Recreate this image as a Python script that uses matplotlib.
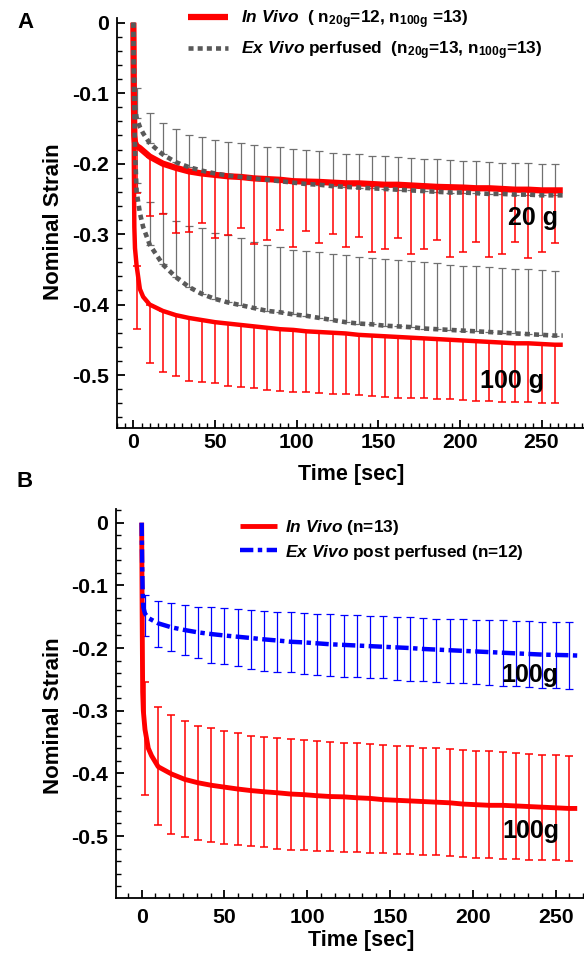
import numpy as np
import matplotlib
matplotlib.use('Agg')
import matplotlib.pyplot as plt
from matplotlib.ticker import MultipleLocator, AutoMinorLocator, FixedLocator, FixedFormatter

plt.rcParams['font.family'] = ['Liberation Sans', 'DejaVu Sans']
plt.rcParams['font.weight'] = 'bold'
plt.rcParams['axes.unicode_minus'] = False
plt.rcParams['mathtext.fontset'] = 'custom'
plt.rcParams['mathtext.rm'] = 'Liberation Sans:bold'
plt.rcParams['mathtext.it'] = 'Liberation Sans:italic:bold'
plt.rcParams['mathtext.bf'] = 'Liberation Sans:bold'

# ---------------- data ----------------
time_line = [0, 0.3, 0.6, 1, 2, 4, 6, 10, 18, 26, 34, 42, 50, 58, 66, 74, 82, 90, 98,
             106, 114, 122, 130, 138, 146, 154, 162, 170, 178, 186, 194, 202, 210,
             218, 226, 234, 242, 250, 258, 263]
time_bars = [2, 10, 18, 26, 34, 42, 50, 58, 66, 74, 82, 90, 98, 106, 114, 122, 130,
             138, 146, 154, 162, 170, 178, 186, 194, 202, 210, 218, 226, 234, 242, 250, 258]

# Panel A : mean curves
A_invivo_20g = [0, -0.10, -0.16, -0.17, -0.175, -0.178, -0.182, -0.190, -0.200, -0.206,
                -0.211, -0.214, -0.216, -0.218, -0.219, -0.221, -0.222, -0.223, -0.225,
                -0.2255, -0.226, -0.227, -0.228, -0.228, -0.229, -0.230, -0.230, -0.231,
                -0.232, -0.233, -0.2335, -0.234, -0.235, -0.235, -0.236, -0.237, -0.237,
                -0.238, -0.238, -0.238]
A_exvivo_20g = [0, -0.06, -0.10, -0.12, -0.135, -0.148, -0.157, -0.171, -0.187, -0.198,
                -0.205, -0.210, -0.214, -0.217, -0.219, -0.221, -0.223, -0.225, -0.227,
                -0.229, -0.230, -0.232, -0.233, -0.234, -0.235, -0.236, -0.237, -0.238,
                -0.239, -0.240, -0.241, -0.241, -0.242, -0.243, -0.243, -0.244, -0.244,
                -0.245, -0.245, -0.245]
A_invivo_100g = [0, -0.20, -0.29, -0.32, -0.345, -0.378, -0.389, -0.400, -0.409, -0.415,
                 -0.419, -0.422, -0.425, -0.427, -0.429, -0.431, -0.433, -0.435, -0.436,
                 -0.438, -0.439, -0.440, -0.441, -0.443, -0.444, -0.445, -0.446, -0.447,
                 -0.448, -0.449, -0.450, -0.451, -0.452, -0.453, -0.454, -0.455, -0.455,
                 -0.456, -0.457, -0.457]
A_exvivo_100g = [0, -0.08, -0.13, -0.18, -0.24, -0.27, -0.29, -0.315, -0.343, -0.361,
                 -0.375, -0.385, -0.392, -0.397, -0.401, -0.405, -0.409, -0.411, -0.414,
                 -0.416, -0.419, -0.422, -0.425, -0.427, -0.428, -0.430, -0.431, -0.432,
                 -0.434, -0.435, -0.436, -0.437, -0.438, -0.439, -0.440, -0.441, -0.442,
                 -0.443, -0.444, -0.444]

# Panel A : error-bar ends (in vivo: lower ends, ex vivo: upper ends)
A_invivo_20g_low = [-0.242, -0.274, -0.272, -0.299, -0.2965, -0.284, -0.305, -0.302, -0.292,
                    -0.314, -0.309, -0.294, -0.318, -0.296, -0.312, -0.300, -0.318, -0.3035,
                    -0.325, -0.321, -0.305, -0.3285, -0.3215, -0.308, -0.332, -0.325, -0.311,
                    -0.332, -0.328, -0.311, -0.334, -0.325, -0.313]
A_exvivo_20g_high = [-0.092, -0.1275, -0.142, -0.151, -0.159, -0.1625, -0.166, -0.169, -0.171,
                     -0.1735, -0.176, -0.177, -0.1797, -0.181, -0.1827, -0.1843, -0.186,
                     -0.187, -0.1885, -0.189, -0.191, -0.192, -0.193, -0.194, -0.195, -0.196,
                     -0.197, -0.198, -0.1985, -0.199, -0.1995, -0.200, -0.200]
A_invivo_100g_low = [-0.435, -0.483, -0.4964, -0.502, -0.5078, -0.5096, -0.5115, -0.5153,
                     -0.5177, -0.519, -0.5214, -0.5224, -0.5234, -0.5245, -0.5257, -0.5267,
                     -0.527, -0.529, -0.5295, -0.5305, -0.5328, -0.5328, -0.5333, -0.5343,
                     -0.5347, -0.5357, -0.5362, -0.5366, -0.5376, -0.538, -0.5385, -0.539, -0.540]
A_exvivo_100g_high = [-0.228, -0.254, -0.270, -0.281, -0.289, -0.292, -0.298, -0.302, -0.306,
                      -0.311, -0.316, -0.319, -0.322, -0.324, -0.326, -0.328, -0.330, -0.333,
                      -0.334, -0.336, -0.337, -0.338, -0.340, -0.341, -0.3437, -0.345, -0.346,
                      -0.347, -0.348, -0.349, -0.350, -0.351, -0.352]

# Panel B : mean curves
B_invivo = [0, -0.15, -0.27, -0.30, -0.33, -0.36, -0.372, -0.3895, -0.401, -0.4096, -0.415,
            -0.419, -0.422, -0.425, -0.4275, -0.4294, -0.431, -0.433, -0.434, -0.4357, -0.437,
            -0.4375, -0.439, -0.440, -0.442, -0.443, -0.444, -0.445, -0.446, -0.447, -0.449,
            -0.450, -0.451, -0.451, -0.452, -0.453, -0.454, -0.455, -0.456, -0.456]
B_exvivo = [0, -0.07, -0.11, -0.135, -0.145, -0.152, -0.155, -0.1606, -0.167, -0.1713, -0.175,
            -0.1777, -0.180, -0.182, -0.184, -0.1862, -0.188, -0.190, -0.191, -0.1925, -0.194,
            -0.195, -0.196, -0.197, -0.198, -0.199, -0.200, -0.2015, -0.2025, -0.2035, -0.2045,
            -0.2055, -0.2065, -0.2075, -0.2085, -0.2095, -0.2105, -0.211, -0.2115, -0.212]

# Panel B : error-bar ends
B_invivo_high = [-0.254, -0.294, -0.307, -0.316, -0.324, -0.328, -0.332, -0.336, -0.340,
                 -0.3415, -0.343, -0.345, -0.347, -0.3485, -0.350, -0.351, -0.352, -0.353,
                 -0.355, -0.356, -0.357, -0.359, -0.360, -0.361, -0.362, -0.364, -0.365,
                 -0.366, -0.368, -0.369, -0.370, -0.371, -0.3725]
B_invivo_low = [-0.435, -0.4826, -0.496, -0.501, -0.5065, -0.509, -0.512, -0.5145, -0.516,
                -0.518, -0.521, -0.522, -0.523, -0.5235, -0.524, -0.525, -0.526, -0.5265,
                -0.527, -0.528, -0.529, -0.530, -0.531, -0.532, -0.533, -0.5345, -0.535,
                -0.536, -0.537, -0.538, -0.538, -0.539, -0.5395]
B_exvivo_high = [-0.1154, -0.125, -0.1287, -0.1314, -0.134, -0.135, -0.1367, -0.138, -0.1393,
                 -0.141, -0.142, -0.143, -0.1447, -0.1457, -0.1463, -0.1474, -0.1474, -0.1485,
                 -0.149, -0.150, -0.151, -0.152, -0.153, -0.1535, -0.154, -0.155, -0.1555,
                 -0.156, -0.157, -0.1575, -0.158, -0.1585, -0.159]
B_exvivo_low = [-0.181, -0.198, -0.2048, -0.2112, -0.2154, -0.2245, -0.2256, -0.228, -0.234,
                -0.2367, -0.2388, -0.239, -0.2415, -0.2426, -0.2447, -0.2458, -0.2458, -0.2474,
                -0.2484, -0.251, -0.252, -0.253, -0.2545, -0.2555, -0.2565, -0.2575, -0.259,
                -0.260, -0.261, -0.262, -0.263, -0.264, -0.265]

xtick_vals = [0, 50, 100, 150, 200, 250]
xtick_labels = ['0', '50', '100', '150', '200', '250']
ytick_vals = [0, -0.1, -0.2, -0.3, -0.4, -0.5]
ytick_labels = ['0', '-0.1', '-0.2', '-0.3', '-0.4', '-0.5']

legend_A = [r"$\mathit{In\ Vivo}$  ( n$_{\mathrm{20g}}$=12, n$_{\mathrm{100g}}$ =13)",
            r"$\mathit{Ex\ Vivo}$ perfused  (n$_{\mathrm{20g}}$=13, n$_{\mathrm{100g}}$=13)"]
legend_B = [r"$\mathit{In\ Vivo}$ (n=13)",
            r"$\mathit{Ex\ Vivo}$ post perfused (n=12)"]

# ---------------- helpers ----------------
t = np.asarray(time_line, dtype=float)
tb = np.asarray(time_bars, dtype=float)
mask = np.isin(t, tb)

def at_bars(series):
    return np.asarray(series, dtype=float)[mask]

def yerr_from_ends(mean, low=None, high=None):
    lo = mean - np.asarray(low, dtype=float) if low is not None else np.zeros_like(mean)
    hi = np.asarray(high, dtype=float) - mean if high is not None else np.zeros_like(mean)
    return [np.clip(lo, 0, None), np.clip(hi, 0, None)]

RED = '#ff0000'
GREY_LINE = '#595959'
GREY_BAR = '#707070'
BLUE = '#0000ff'

W, H = 584, 955
fig = plt.figure(figsize=(W / 100, H / 100), dpi=100)

def px_axes(left, top, right, bottom):
    return fig.add_axes([left / W, 1 - bottom / H, (right - left) / W, (bottom - top) / H])

axA = px_axes(116.7, 18.3, 584, 428.3)
axB = px_axes(116.0, 509.3, 584, 898.3)

def style(ax, xpad):
    for s in ['top', 'right']:
        ax.spines[s].set_visible(False)
    for s in ['left', 'bottom']:
        ax.spines[s].set_linewidth(1.3)
    ax.xaxis.set_major_locator(FixedLocator(xtick_vals))
    ax.xaxis.set_major_formatter(FixedFormatter(xtick_labels))
    ax.yaxis.set_major_locator(FixedLocator(ytick_vals))
    ax.yaxis.set_major_formatter(FixedFormatter(ytick_labels))
    ax.yaxis.set_minor_locator(MultipleLocator(0.02))
    ax.tick_params(which='major', direction='in', length=6, width=1.3, labelsize=15.3)
    ax.tick_params(which='minor', direction='in', length=3.5, width=1.0)
    ax.tick_params(axis='y', which='major', pad=5.5)
    ax.tick_params(axis='x', which='major', pad=xpad)
    for lab in ax.get_xticklabels() + ax.get_yticklabels():
        lab.set_fontweight('bold')

# ---------------- Panel A ----------------
ax = axA
m = at_bars(A_exvivo_20g)
ax.errorbar(tb, m, yerr=yerr_from_ends(m, high=A_exvivo_20g_high), fmt='none',
            ecolor=GREY_BAR, elinewidth=0.9, capsize=3, capthick=0.9, zorder=2)
m = at_bars(A_exvivo_100g)
ax.errorbar(tb, m, yerr=yerr_from_ends(m, high=A_exvivo_100g_high), fmt='none',
            ecolor=GREY_BAR, elinewidth=0.9, capsize=3, capthick=0.9, zorder=2)
m = at_bars(A_invivo_20g)
ax.errorbar(tb, m, yerr=yerr_from_ends(m, low=A_invivo_20g_low), fmt='none',
            ecolor=RED, elinewidth=1.1, capsize=3, capthick=1.1, zorder=3)
m = at_bars(A_invivo_100g)
ax.errorbar(tb, m, yerr=yerr_from_ends(m, low=A_invivo_100g_low), fmt='none',
            ecolor=RED, elinewidth=1.1, capsize=3, capthick=1.1, zorder=3)

l_iv, = ax.plot(t, A_invivo_20g, color=RED, lw=4.5, solid_capstyle='butt', zorder=4)
ax.plot(t, A_invivo_100g, color=RED, lw=3.2, solid_capstyle='butt', zorder=4)
l_ev, = ax.plot(t, A_exvivo_20g, color=GREY_LINE, lw=3.3, ls=(0, (1.1, 0.9)),
                dash_capstyle='butt', zorder=5)
ax.plot(t, A_exvivo_100g, color=GREY_LINE, lw=3.3, ls=(0, (1.1, 0.9)),
        dash_capstyle='butt', zorder=5)

ax.set_xlim(-10.2, 276)
ax.set_ylim(-0.5756, 0.0062)
ax.xaxis.set_minor_locator(MultipleLocator(5))
style(ax, 3.5)
ax.set_xlabel('Time [sec]', fontsize=15.5, fontweight='bold')
ax.xaxis.set_label_coords(351 / W, 1 - 464 / H, transform=fig.transFigure)
ax.set_ylabel('Nominal Strain', fontsize=16, fontweight='bold')
ax.yaxis.set_label_coords(64 / W, 1 - 222 / H, transform=fig.transFigure)

ax.text(244.8, -0.277, '20 g', fontsize=18, fontweight='bold', ha='center', va='center', zorder=6)
ax.text(232.2, -0.509, '100 g', fontsize=18, fontweight='bold', ha='center', va='center', zorder=6)

ax.legend([l_iv, l_ev], legend_A, loc='upper left', bbox_to_anchor=(188 / W, 1 - 8 / H),
          bbox_transform=fig.transFigure, frameon=False, borderpad=0, borderaxespad=0,
          handlelength=2.3, handletextpad=0.79, labelspacing=0.5,
          prop={'family': 'Liberation Sans', 'weight': 'bold', 'size': 12.4})

# ---------------- Panel B ----------------
ax = axB
m = at_bars(B_exvivo)
ax.errorbar(tb, m, yerr=yerr_from_ends(m, low=B_exvivo_low, high=B_exvivo_high), fmt='none',
            ecolor=BLUE, elinewidth=0.9, capsize=3, capthick=0.9, zorder=2)
m = at_bars(B_invivo)
ax.errorbar(tb, m, yerr=yerr_from_ends(m, low=B_invivo_low, high=B_invivo_high), fmt='none',
            ecolor=RED, elinewidth=1.1, capsize=3, capthick=1.1, zorder=3)
l_bi, = ax.plot(t, B_invivo, color=RED, lw=3.5, solid_capstyle='butt', zorder=4)
l_be, = ax.plot(t, B_exvivo, color=BLUE, lw=3.2, ls=(0, (3, 1, 1, 1)),
                dash_capstyle='butt', zorder=5)

ax.set_xlim(-15.5, 267.1)
ax.set_ylim(-0.5994, 0.0214)
ax.xaxis.set_minor_locator(AutoMinorLocator(6))
style(ax, 7)
ax.set_xlabel('Time [sec]', fontsize=15.5, fontweight='bold')
ax.xaxis.set_label_coords(361 / W, 1 - 930 / H, transform=fig.transFigure)
ax.set_ylabel('Nominal Strain', fontsize=16, fontweight='bold')
ax.yaxis.set_label_coords(64 / W, 1 - 716 / H, transform=fig.transFigure)

ax.text(234.5, -0.243, '100g', fontsize=18, fontweight='bold', ha='center', va='center', zorder=6)
ax.text(235.0, -0.492, '100g', fontsize=18, fontweight='bold', ha='center', va='center', zorder=6)

ax.legend([l_bi, l_be], legend_B, loc='upper left', bbox_to_anchor=(240 / W, 1 - 518 / H),
          bbox_transform=fig.transFigure, frameon=False, borderpad=0, borderaxespad=0,
          handlelength=2.13, handletextpad=0.46, labelspacing=0.32,
          prop={'family': 'Liberation Sans', 'weight': 'bold', 'size': 12.4})

fig.text(26 / W, 1 - 22.5 / H, 'A', fontsize=16, fontweight='bold', ha='center', va='center')
fig.text(25 / W, 1 - 481.5 / H, 'B', fontsize=16, fontweight='bold', ha='center', va='center')

fig.savefig('out.png', dpi=100)
